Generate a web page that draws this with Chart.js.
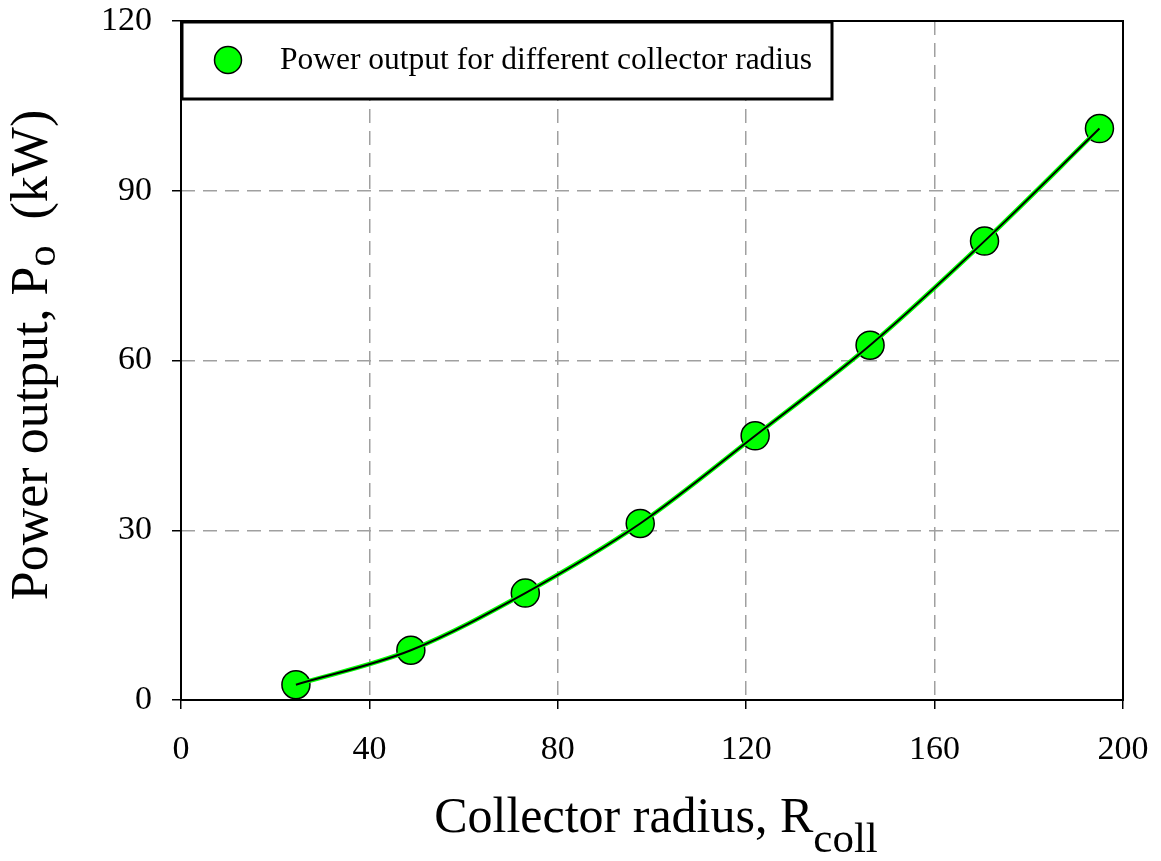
<!DOCTYPE html>
<html>
<head>
<meta charset="utf-8">
<script src="https://cdn.jsdelivr.net/npm/chart.js@4.4.1/dist/chart.umd.min.js"></script>
<style>
  body { margin: 0; background: #fff; }
  #wrap { width: 1161px; height: 861px; }
</style>
</head>
<body>
<div id="wrap"><canvas id="myChart" width="1161" height="861"></canvas></div>
<script>
// data
var radius = [24.4, 48.8, 73.1, 97.5, 121.9, 146.3, 170.6, 195.0];
var power = [2.7, 8.8, 18.9, 31.2, 46.7, 62.7, 81.1, 101.0];
var xTicks = [0, 40, 80, 120, 160, 200];
var yTicks = [0, 30, 60, 90, 120];
var seriesLabel = 'Power output for different collector radius';

var serif = "'Liberation Serif', 'Times New Roman', serif";

var points = radius.map(function (r, i) { return { x: r, y: power[i] }; });

// draws text made of pieces (normal + subscript), centred on cx
function drawPieces(ctx, pieces, cx, cy) {
    var total = 0;
    pieces.forEach(function (p) {
        ctx.font = p.size + 'px ' + serif;
        p.w = ctx.measureText(p.t).width;
        total += p.w;
    });
    var x = cx - total / 2;
    ctx.textAlign = 'left';
    ctx.textBaseline = 'alphabetic';
    pieces.forEach(function (p) {
        ctx.font = p.size + 'px ' + serif;
        ctx.fillText(p.t, x, cy + (p.dy || 0));
        x += p.w;
    });
}

var decorations = {
    id: 'decorations',
    afterDraw: function (chart) {
        var ctx = chart.ctx;
        var a = chart.chartArea;
        ctx.save();

        // plot frame
        ctx.strokeStyle = '#000';
        ctx.lineWidth = 2;
        ctx.strokeRect(a.left, a.top, a.right - a.left, a.bottom - a.top);

        // legend box
        ctx.fillStyle = '#fff';
        ctx.fillRect(182, 22, 650, 77);
        ctx.lineWidth = 3;
        ctx.strokeRect(182, 22, 650, 77);
        ctx.beginPath();
        ctx.arc(228, 60, 13.5, 0, Math.PI * 2);
        ctx.fillStyle = '#00ff00';
        ctx.fill();
        ctx.lineWidth = 1.5;
        ctx.stroke();
        ctx.fillStyle = '#000';
        ctx.font = '31.5px ' + serif;
        ctx.textAlign = 'left';
        ctx.textBaseline = 'middle';
        ctx.fillText(chart.data.datasets[2].label, 280, 61);

        // axis titles
        ctx.fillStyle = '#000';
        drawPieces(ctx, [
            { t: 'Collector radius, R', size: 50 },
            { t: 'coll', size: 43, dy: 20 }
        ], (a.left + a.right) / 2 + 4, 832);

        ctx.translate(47, 355);
        ctx.rotate(-Math.PI / 2);
        drawPieces(ctx, [
            { t: 'Power output, P', size: 52 },
            { t: 'o', size: 42, dy: 8 },
            { t: '  (kW)', size: 52 }
        ], 0, 0);

        ctx.restore();
    }
};

var ctx = document.getElementById('myChart').getContext('2d');
var myChart = new Chart(ctx, {
    type: 'scatter',
    data: {
        datasets: [{
            // black fit line on top
            label: 'fit',
            data: points,
            showLine: true,
            cubicInterpolationMode: 'monotone',
            borderColor: '#000',
            borderWidth: 2,
            pointRadius: 0,
            order: 0
        }, {
            // green edge of the fit line
            label: 'fit edge',
            data: points,
            showLine: true,
            cubicInterpolationMode: 'monotone',
            borderColor: '#00ff00',
            borderWidth: 4.5,
            pointRadius: 0,
            order: 1
        }, {
            label: seriesLabel,
            data: points,
            showLine: false,
            pointRadius: 14,
            pointBackgroundColor: '#00ff00',
            pointBorderColor: '#000',
            pointBorderWidth: 1.5,
            order: 2
        }]
    },
    options: {
        responsive: false,
        animation: false,
        events: [],
        layout: { padding: { top: 21, right: 38, left: 0, bottom: 0 } },
        plugins: {
            legend: { display: false },
            tooltip: { enabled: false }
        },
        scales: {
            x: {
                type: 'linear',
                min: 0,
                max: 200,
                afterBuildTicks: function (scale) {
                    scale.ticks = xTicks.map(function (v) { return { value: v }; });
                },
                afterFit: function (scale) {
                    scale.height = 161;
                    scale.paddingLeft = 0;
                    scale.paddingRight = 0;
                },
                grid: {
                    color: '#a0a0a0',
                    lineWidth: 1.5,
                    tickColor: '#000',
                    tickWidth: 1.5,
                    tickLength: 9
                },
                border: { display: false, dash: [14, 8] },
                ticks: {
                    color: '#000',
                    padding: 21,
                    maxRotation: 0,
                    font: { family: serif, size: 34 }
                }
            },
            y: {
                type: 'linear',
                min: 0,
                max: 120,
                afterBuildTicks: function (scale) {
                    scale.ticks = yTicks.map(function (v) { return { value: v }; });
                },
                afterFit: function (scale) {
                    scale.width = 181;
                    scale.paddingTop = 0;
                    scale.paddingBottom = 0;
                },
                grid: {
                    color: '#a0a0a0',
                    lineWidth: 1.5,
                    tickColor: '#000',
                    tickWidth: 1.5,
                    tickLength: 9
                },
                border: { display: false, dash: [14, 8] },
                ticks: {
                    color: '#000',
                    padding: 20,
                    font: { family: serif, size: 34 }
                }
            }
        }
    },
    plugins: [decorations]
});
</script>
</body>
</html>
